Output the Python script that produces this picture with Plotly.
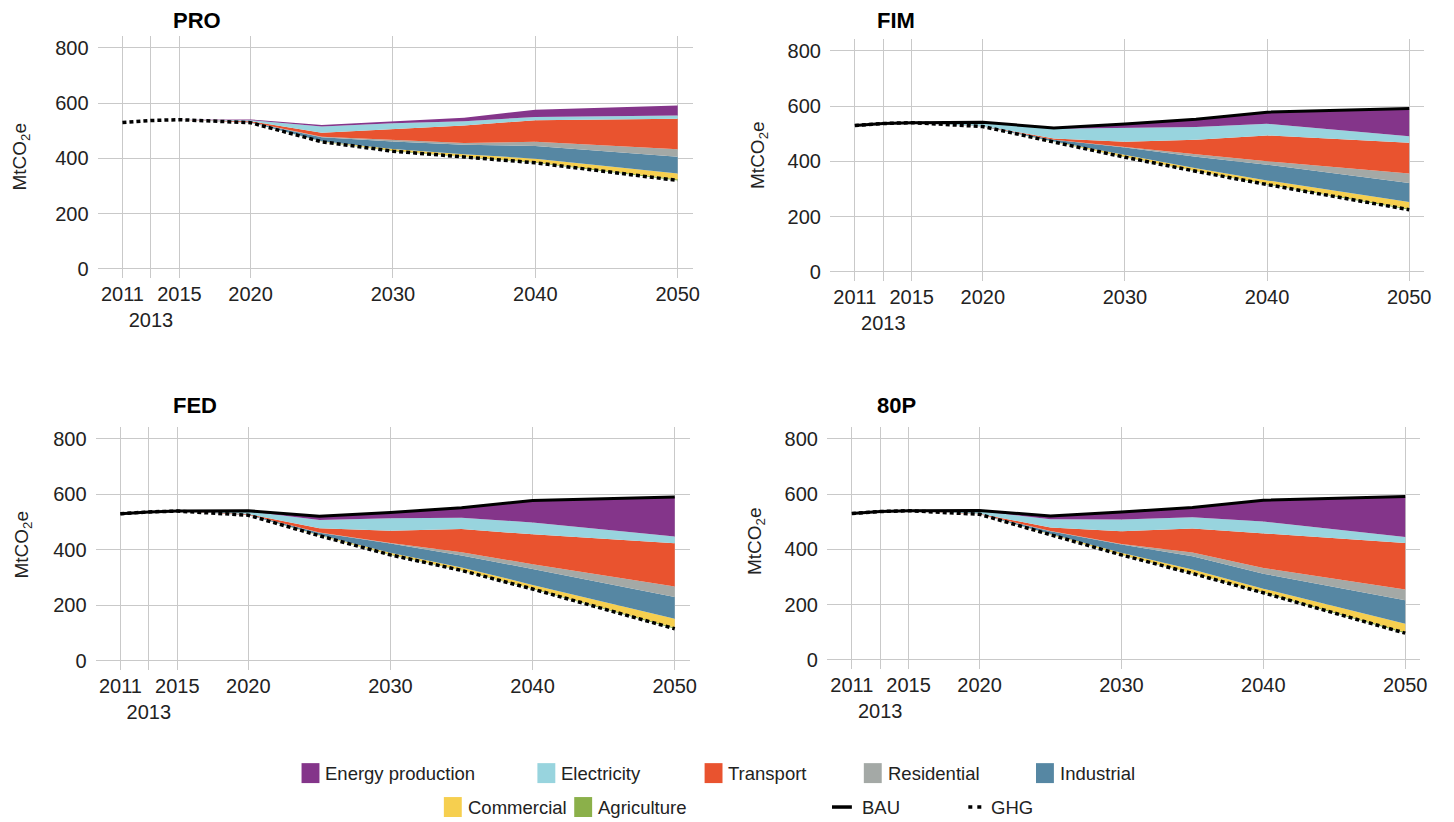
import plotly.graph_objects as go

# ---- data ----
years = [2011, 2013, 2015, 2020, 2025, 2030, 2035, 2040, 2050]
tick_years = [2011, 2013, 2015, 2020, 2030, 2040, 2050]
tick_labels = ["2011", "<br>2013", "2015", "2020", "2030", "2040", "2050"]
y_ticks = [0, 200, 400, 600, 800]

scenarios = ["PRO", "FIM", "FED", "80P"]
show_bau = [False, True, True, True]

# sectors stacked from GHG (bottom) up to BAU (top)
sectors = ["Agriculture", "Commercial", "Industrial", "Residential",
           "Transport", "Electricity", "Energy production"]

bau = [530, 537, 540, 541, 521, 535, 552, 578, 591]

pro_ghg = [530, 537, 540, 529, 460, 426, 405, 384, 320]
pro_agri = [0, 0, 0, 0, 1, 2, 2, 3, 4]
pro_comm = [0, 0, 0, 0, 1, 6, 8, 12, 21]
pro_ind = [0, 0, 0, 2, 14, 27, 34, 46, 61]
pro_res = [0, 0, 0, 0, 2, 6, 7, 15, 27]
pro_trans = [0, 0, 0, 3, 15, 38, 63, 78, 110]
pro_elec = [0, 0, 0, 4, 22, 22, 15, 12, 12]
pro_energy = [0, 0, 0, 3, 6, 8, 13, 26, 36]

fim_ghg = [530, 537, 540, 526, 470, 415, 364, 316, 225]
fim_agri = [0, 0, 0, 0, 1, 2, 2, 3, 4]
fim_comm = [0, 0, 0, 0, 1, 6, 9, 12, 24]
fim_ind = [0, 0, 0, 1, 6, 27, 42, 57, 69]
fim_res = [0, 0, 0, 0, 0, 3, 9, 12, 34]
fim_trans = [0, 0, 0, 1, 5, 18, 52, 94, 111]
fim_elec = [0, 0, 0, 12, 35, 50, 46, 42, 24]
fim_energy = [0, 0, 0, 1, 3, 14, 28, 42, 100]

fed_ghg = [530, 537, 540, 525, 451, 382, 326, 259, 116]
fed_agri = [0, 0, 0, 0, 1, 2, 2, 3, 4]
fed_comm = [0, 0, 0, 0, 2, 6, 9, 12, 32]
fed_ind = [0, 0, 0, 2, 8, 33, 43, 57, 78]
fed_res = [0, 0, 0, 0, 1, 2, 12, 17, 38]
fed_trans = [0, 0, 0, 2, 15, 44, 83, 108, 156]
fed_elec = [0, 0, 0, 10, 30, 45, 41, 43, 24]
fed_energy = [0, 0, 0, 2, 13, 21, 36, 79, 143]

p80_ghg = [530, 537, 540, 527, 453, 380, 313, 243, 97]
p80_agri = [0, 0, 0, 0, 1, 2, 2, 3, 4]
p80_comm = [0, 0, 0, 0, 2, 6, 12, 12, 30]
p80_ind = [0, 0, 0, 0, 10, 30, 48, 54, 85]
p80_res = [0, 0, 0, 0, 1, 2, 14, 21, 39]
p80_trans = [0, 0, 0, 2, 12, 46, 87, 126, 168]
p80_elec = [0, 0, 0, 10, 30, 42, 40, 42, 22]
p80_energy = [0, 0, 0, 2, 12, 27, 36, 77, 146]

ghg = [pro_ghg, fim_ghg, fed_ghg, p80_ghg]
sector_values = [
    [pro_agri, pro_comm, pro_ind, pro_res, pro_trans, pro_elec, pro_energy],
    [fim_agri, fim_comm, fim_ind, fim_res, fim_trans, fim_elec, fim_energy],
    [fed_agri, fed_comm, fed_ind, fed_res, fed_trans, fed_elec, fed_energy],
    [p80_agri, p80_comm, p80_ind, p80_res, p80_trans, p80_elec, p80_energy],
]

colors = {
    "Energy production": "#84358a",
    "Electricity": "#98d4de",
    "Transport": "#e9532f",
    "Residential": "#a4a9a6",
    "Industrial": "#5687a3",
    "Commercial": "#f6cf4f",
    "Agriculture": "#8bb04a",
}

W, H = 1454, 822
FONT = "Liberation Sans, Arial, sans-serif"

# panel boxes in pixels: left, right, top, bottom
boxes = [(98, 696, 36, 279), (834, 1431, 39, 282),
         (96, 693, 428, 672), (831, 1427, 428, 671)]
title_pos = [(172, 21), (879, 21), (172, 406), (879, 406)]
ytitle_pos = [(21, 157), (762, 155), (23, 546), (759, 542)]


def px(x):
    return x / W


def py(y):
    return 1 - y / H


fig = go.Figure()

for i, name in enumerate(scenarios):
    xa = "x" if i == 0 else f"x{i + 1}"
    ya = "y" if i == 0 else f"y{i + 1}"
    grp = f"s{i}"
    # invisible base up to GHG, then sector reductions on top
    fig.add_trace(go.Scatter(x=years, y=ghg[i], stackgroup=grp, mode="lines",
                             line=dict(width=0), fillcolor="rgba(0,0,0,0)",
                             showlegend=False, hoverinfo="skip",
                             xaxis=xa, yaxis=ya))
    for s, vals in zip(sectors, sector_values[i]):
        fig.add_trace(go.Scatter(x=years, y=vals, stackgroup=grp, mode="lines",
                                 line=dict(width=0, color=colors[s]),
                                 fillcolor=colors[s], name=s, showlegend=False,
                                 xaxis=xa, yaxis=ya))
    if show_bau[i]:
        fig.add_trace(go.Scatter(x=years, y=bau, mode="lines", name="BAU",
                                 line=dict(color="black", width=3),
                                 showlegend=False, xaxis=xa, yaxis=ya))
    fig.add_trace(go.Scatter(x=years, y=ghg[i], mode="lines", name="GHG",
                             line=dict(color="black", width=3.5, dash="4px,3px"),
                             showlegend=False, xaxis=xa, yaxis=ya))

    l, r, t, b = boxes[i]
    axis_common = dict(showgrid=True, gridcolor="#c9c9c9", gridwidth=1.3,
                       zeroline=False, showline=False, ticks="",
                       tickfont=dict(family=FONT, size=20, color="#222"))
    fig.update_layout({
        ("xaxis" if i == 0 else f"xaxis{i + 1}"): dict(
            domain=[px(l), px(r)], anchor=ya, range=[2009.25, 2051.05],
            tickvals=tick_years, ticktext=tick_labels, tickangle=0,
            ticklabelstandoff=2, **axis_common),
        ("yaxis" if i == 0 else f"yaxis{i + 1}"): dict(
            domain=[py(b), py(t)], anchor=xa, range=[-34, 843],
            tickvals=y_ticks, ticklabelstandoff=8, **axis_common),
    })

    tx, ty = title_pos[i]
    fig.add_annotation(x=px(tx), y=py(ty), xref="paper", yref="paper",
                       text=f"<b>{name}</b>", showarrow=False, xanchor="left",
                       yanchor="middle", font=dict(family=FONT, size=22, color="black"))
    yx, yy = ytitle_pos[i]
    fig.add_annotation(x=px(yx), y=py(yy), xref="paper", yref="paper",
                       text="MtCO<sub>2</sub>e", textangle=-90, showarrow=False,
                       xanchor="center", yanchor="middle",
                       font=dict(family=FONT, size=19, color="#222"))

# ---- manual legend (two centred rows) ----
legend_items = [
    ("Energy production", "box", 303, 775), ("Electricity", "box", 540, 775),
    ("Transport", "box", 708, 775), ("Residential", "box", 868, 775),
    ("Industrial", "box", 1041, 775),
    ("Commercial", "box", 446, 809), ("Agriculture", "box", 577, 809),
    ("BAU", "solid", 836, 809), ("GHG", "dot", 973, 809),
]
for label, kind, lx, ly in legend_items:
    if kind == "box":
        fig.add_shape(type="rect", xref="paper", yref="paper",
                      x0=px(lx), x1=px(lx + 18), y0=py(ly - 10), y1=py(ly + 10),
                      fillcolor=colors[label], line=dict(width=0))
        tx = lx + 22
    elif kind == "solid":
        fig.add_shape(type="line", xref="paper", yref="paper",
                      x0=px(lx), x1=px(lx + 20), y0=py(ly), y1=py(ly),
                      line=dict(color="black", width=3.5))
        tx = lx + 28
    else:
        fig.add_shape(type="line", xref="paper", yref="paper",
                      x0=px(lx), x1=px(lx + 14), y0=py(ly), y1=py(ly),
                      line=dict(color="black", width=3.5, dash="4px,5px"))
        tx = lx + 21
    fig.add_annotation(x=px(tx), y=py(ly), xref="paper", yref="paper",
                       text=label, showarrow=False, xanchor="left",
                       yanchor="middle", font=dict(family=FONT, size=18.5, color="#222"))

fig.update_layout(
    width=W, height=H,
    margin=dict(l=0, r=0, t=0, b=0),
    plot_bgcolor="white", paper_bgcolor="white",
    showlegend=False,
    font=dict(family=FONT),
)

# drop the default page margin so the figure fills the window exactly
fig.write_html("out.html", config={"displayModeBar": False},
               post_script="document.body.style.margin='0px';")
